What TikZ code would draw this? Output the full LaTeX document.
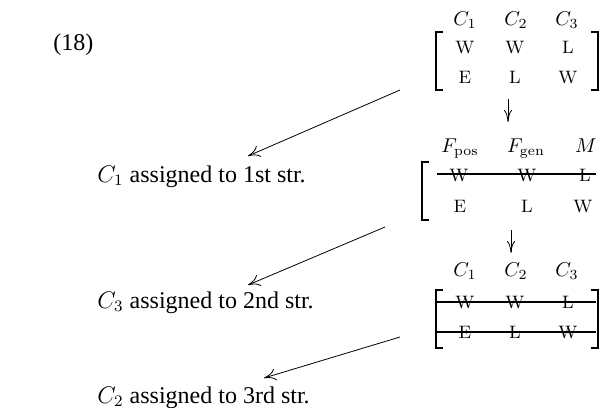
\documentclass[tikz,border=0pt]{standalone}
\usepackage[no-math]{fontspec}
\setmainfont{Liberation Serif}
\usetikzlibrary{arrows.meta}
\newcommand{\mq}[1]{$\mathrm{#1}$}
\begin{document}
\begin{tikzpicture}[x=0.5pt,y=-0.5pt,
  lbl/.style={anchor=base west, inner sep=0, font=\fontsize{12}{14}\selectfont},
  hd/.style={anchor=base, inner sep=0, font=\fontsize{10}{12}\selectfont},
  ent/.style={anchor=base, inner sep=0, font=\fontsize{9}{11}\selectfont},
  brk/.style={line width=0.7pt},
  strike/.style={line width=1.1pt},
  darr/.style={-{To[length=6pt,width=4pt]}, line width=0.4pt},
  arr/.style={-{To[length=6pt,width=6pt]}, line width=0.4pt}]
\useasboundingbox (0,0) rectangle (602,408);

\node[lbl] (num) at (53,50) {(18)};

% matrix 1
\node[hd] (a1) at (465,25) {$C_1$};
\node[hd] (a2) at (516,25) {$C_2$};
\node[hd] (a3) at (567,25) {$C_3$};
\node[ent] (a11) at (465,53) {\mq{W}};
\node[ent] (a12) at (515,53) {\mq{W}};
\node[ent] (a13) at (568,53) {\mq{L}};
\node[ent] (a21) at (465,83) {\mq{E}};
\node[ent] (a22) at (515,83) {\mq{L}};
\node[ent] (a23) at (568,83) {\mq{W}};
\draw[brk] (443,32) -- (436,32) -- (436,90) -- (443,90);
\draw[brk] (591,32) -- (598,32) -- (598,90) -- (591,90);

\coordinate (d1s) at (508,99);
\coordinate (d1e) at (508,122);
\draw[darr] (d1s) -- (d1e);

% matrix 2
\node[hd] (b1) at (460,152) {$F_{\mathrm{pos}}$};
\node[hd] (b2) at (526,152) {$F_{\mathrm{gen}}$};
\node[hd] (b3) at (586,152) {$M$};
\node[ent] (b11) at (459,181) {\mq{W}};
\node[ent] (b12) at (527,181) {\mq{W}};
\node[ent] (b13) at (585,181) {\mq{L}};
\node[ent] (b21) at (460,212) {\mq{E}};
\node[ent] (b22) at (527,212) {\mq{L}};
\node[ent] (b23) at (583,212) {\mq{W}};
\draw[brk] (429,162) -- (422,162) -- (422,220) -- (429,220);
\coordinate (s2a) at (437,174);
\coordinate (s2b) at (596,174);
\draw[strike] (s2a) -- (s2b);

\coordinate (d2s) at (511,230);
\coordinate (d2e) at (511,253);
\draw[darr] (d2s) -- (d2e);

% matrix 3
\node[hd] (c1) at (465,276) {$C_1$};
\node[hd] (c2) at (516,276) {$C_2$};
\node[hd] (c3) at (567,276) {$C_3$};
\node[ent] (c11) at (465,308) {\mq{W}};
\node[ent] (c12) at (515,308) {\mq{W}};
\node[ent] (c13) at (568,308) {\mq{L}};
\node[ent] (c21) at (465,338) {\mq{E}};
\node[ent] (c22) at (515,338) {\mq{L}};
\node[ent] (c23) at (568,338) {\mq{W}};
\draw[brk] (443,290) -- (436,290) -- (436,348) -- (443,348);
\draw[brk] (591,290) -- (598,290) -- (598,348) -- (591,348);
\coordinate (s3a) at (437,302);
\coordinate (s3b) at (596,302);
\coordinate (s4a) at (437,332);
\coordinate (s4b) at (596,332);
\draw[strike] (s3a) -- (s3b);
\draw[strike] (s4a) -- (s4b);

% labels and arrows
\node[lbl] (t1) at (97,182) {$C_1$ assigned to 1st str.};
\node[lbl] (t2) at (97,308) {$C_3$ assigned to 2nd str.};
\node[lbl] (t3) at (97,403) {$C_2$ assigned to 3rd str.};

\coordinate (p1s) at (400,90);
\coordinate (p1e) at (248,156);
\coordinate (p2s) at (385,227);
\coordinate (p2e) at (248,285);
\coordinate (p3s) at (400,337);
\coordinate (p3e) at (264,378);
\draw[arr] (p1s) -- (p1e);
\draw[arr] (p2s) -- (p2e);
\draw[arr] (p3s) -- (p3e);
\end{tikzpicture}
\end{document}
